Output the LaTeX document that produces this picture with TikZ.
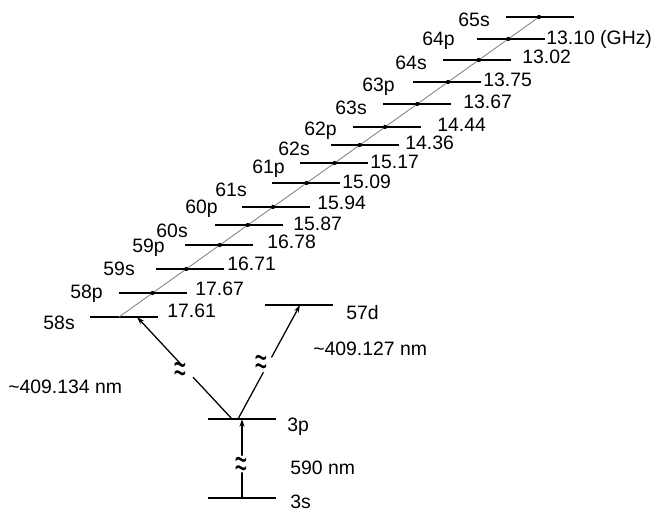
\documentclass[tikz,border=0pt]{standalone}
\usepackage{fontspec}
\setmainfont{Liberation Sans}
\usepackage{tikz}
\usetikzlibrary{arrows.meta,positioning,calc}

\begin{document}
\begin{tikzpicture}[
    font=\fontsize{13.8}{16}\selectfont,
    lev/.style={minimum width=1.7cm, minimum height=0pt, inner sep=0pt, outer sep=0pt},
    levline/.style={line width=1.4pt},
    txt/.style={inner sep=0pt, text depth=0pt, anchor=west},
    lbl/.style={inner sep=0pt, anchor=base east},
    arrow/.style={-{Stealth[length=5.5pt,width=3.5pt]}, line width=0.9pt},
    diag/.style={gray, line width=0.6pt},
    cut/.style={circle, fill=white, inner sep=0pt, minimum size=0.42cm},
    brk/.style={inner sep=0pt}
]
\useasboundingbox (0,0) rectangle (16.525,12.775);

% Levels
\node[lev] (lev3s) at (6.05,0.325) {};
\node[lev] (lev3p) at (6.05,2.3) {};
\node[lev] (lev57d) at (7.475,5.15) {};
\node[lev] (lev58s) at (3.1,4.85) {};
\node[lev] (lev58p) at (3.825,5.45) {};
\node[lev] (lev59s) at (4.75,6.05) {};
\node[lev] (lev59p) at (5.475,6.65) {};
\node[lev] (lev60s) at (6.225,7.15) {};
\node[lev] (lev60p) at (6.9,7.6) {};
\node[lev] (lev61s) at (7.65,8.2) {};
\node[lev] (lev61p) at (8.35,8.7) {};
\node[lev] (lev62s) at (9.125,9.15) {};
\node[lev] (lev62p) at (9.675,9.6) {};
\node[lev] (lev63s) at (10.425,10.175) {};
\node[lev] (lev63p) at (11.175,10.725) {};
\node[lev] (lev64s) at (11.925,11.275) {};
\node[lev] (lev64p) at (12.775,11.8) {};
\node[lev] (lev65s) at (13.5,12.35) {};
\foreach \n in {3s,3p,57d,58s,58p,59s,59p,60s,60p,61s,61p,62s,62p,63s,63p,64s,64p,65s}
    \draw[levline] (lev\n.west) -- (lev\n.east);

% Level names
\node[txt] (n3s) at (7.25,0.23) {3s};
\node[txt] (n3p) at (7.175,2.16) {3p};
\node[txt] (n57d) at (8.65,4.97) {57d};
\node[lbl] (n58s) at (1.875,4.55) {58s};
\node[lbl] (n58p) at (2.575,5.325) {58p};
\node[lbl] (n59s) at (3.375,5.9) {59s};
\node[lbl] (n59p) at (4.125,6.475) {59p};
\node[lbl] (n60s) at (4.7,6.85) {60s};
\node[lbl] (n60p) at (5.45,7.45) {60p};
\node[lbl] (n61s) at (6.175,7.875) {61s};
\node[lbl] (n61p) at (7.125,8.45) {61p};
\node[lbl] (n62s) at (7.75,8.9) {62s};
\node[lbl] (n62p) at (8.425,9.4) {62p};
\node[lbl] (n63s) at (9.175,9.925) {63s};
\node[lbl] (n63p) at (9.875,10.5) {63p};
\node[lbl] (n64s) at (10.675,11.05) {64s};
\node[lbl] (n64p) at (11.375,11.65) {64p};
\node[lbl] (n65s) at (12.25,12.1) {65s};

% Intervals
\node[txt] (v58s) at (4.175,5.01) {17.61};
\node[txt] (v58p) at (4.875,5.56) {17.67};
\node[txt] (v59s) at (5.675,6.19) {16.71};
\node[txt] (v59p) at (6.675,6.74) {16.78};
\node[txt] (v60s) at (7.325,7.19) {15.87};
\node[txt] (v60p) at (7.925,7.7) {15.94};
\node[txt] (v61s) at (8.55,8.24) {15.09};
\node[txt] (v61p) at (9.25,8.74) {15.17};
\node[txt] (v62s) at (10.125,9.21) {14.36};
\node[txt] (v62p) at (10.925,9.65) {14.44};
\node[txt] (v63s) at (11.575,10.24) {13.67};
\node[txt] (v63p) at (12.075,10.775) {13.75};
\node[txt] (v64s) at (13.05,11.36) {13.02};
\node[txt] (v64p) at (13.65,11.84) {13.10 (GHz)};

% Diagonal with dots
\coordinate (diagA) at (2.975,4.85);
\coordinate (diagB) at (13.475,12.35);
\draw[diag] (diagA) -- (diagB);
\foreach \n in {58p,59s,59p,60s,60p,61s,61p,62s,62p,63s,63p,64s,64p,65s}
    \fill (intersection of diagA--diagB and lev\n.west--lev\n.east) circle (1.5pt);

% Excitation
\draw[arrow] (lev3s.center) -- node[cut, pos=0.43] {} (lev3p.center);
\draw[arrow] ([xshift=-0.25cm]lev3p.center) -- node[cut, pos=0.47] {} ([xshift=0.325cm]lev58s.center);
\draw[arrow] ([xshift=-0.1cm]lev3p.center) -- node[cut, pos=0.475] {} ([xshift=0.025cm]lev57d.center);
\node[brk] (brk1) at (6.025,1.1) {\scalebox{1.1}[2.1]{≈}};
\node[brk] (brk2) at (4.5,3.475) {\scalebox{1.1}[2.1]{≈}};
\node[brk] (brk3) at (6.525,3.65) {\scalebox{1.1}[2.1]{≈}};

% Wavelengths
\node[txt] (w590) at (7.25,1.09) {590 nm};
\node[txt] (w58s) at (0.2,3.1) {\textasciitilde409.134 nm};
\node[txt] (w57d) at (7.825,4.05) {\textasciitilde409.127 nm};

\end{tikzpicture}
\end{document}
